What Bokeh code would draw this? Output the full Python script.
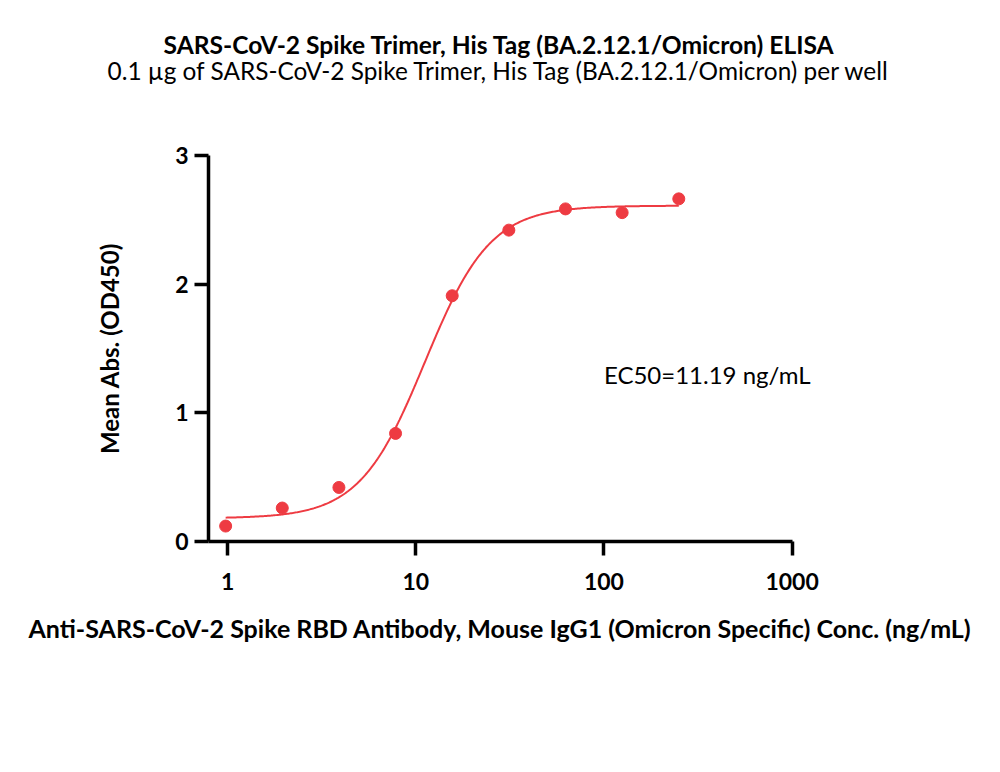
import numpy as np
from bokeh.plotting import figure
from bokeh.layouts import column
from bokeh.models import Label, Title, FixedTicker, BasicTickFormatter
from bokeh.embed import file_html
from bokeh.resources import INLINE

# ELISA dose-response data (antibody concentration in ng/mL vs OD450)
conc = [0.977, 1.953, 3.906, 7.8125, 15.625, 31.25, 62.5, 125, 250]
od450 = [0.12, 0.26, 0.42, 0.84, 1.91, 2.42, 2.585, 2.556, 2.663]

# Four-parameter logistic fit parameters
fit_bottom = 0.18
fit_top = 2.61
ec50 = 11.19
hill = 2.5

x_ticks = [1, 10, 100, 1000]
y_ticks = [0, 1, 2, 3]

title_text = "SARS-CoV-2 Spike Trimer, His Tag (BA.2.12.1/Omicron) ELISA"
subtitle_text = "0.1 \u00b5g of SARS-CoV-2 Spike Trimer, His Tag (BA.2.12.1/Omicron) per well"
x_label = "Anti-SARS-CoV-2 Spike RBD Antibody, Mouse IgG1 (Omicron Specific) Conc. (ng/mL)"
y_label = "Mean Abs. (OD450)"
ec50_text = f"EC50={ec50} ng/mL"

FONT = "Lato"
RED = "#EE3B42"
HEAD_H = 120
X_RANGE = (0.792, 1600)

# heading strip: title and subtitle sit in its top panel
head = figure(width=1000, height=HEAD_H, x_axis_type="log", x_range=X_RANGE,
              y_range=(0, 1), output_backend="svg", toolbar_location=None,
              min_border_left=208, min_border_right=170,
              min_border_top=80, min_border_bottom=0)
head.outline_line_color = None
head.xaxis.visible = False
head.yaxis.visible = False
head.grid.visible = False
head.add_layout(Title(text=subtitle_text, text_font=FONT, text_font_size="24.4px",
                      text_font_style="normal", text_color="black",
                      align="left", offset=-101, vertical_align="middle",
                      standoff=-10), "above")
head.add_layout(Title(text=title_text, text_font=FONT, text_font_style="bold",
                      text_font_size="24.6px", text_color="black",
                      align="left", offset=-45, vertical_align="middle",
                      standoff=0), "above")

p = figure(width=1000, height=772 - HEAD_H, x_axis_type="log",
           x_range=X_RANGE, y_range=(0, 3),
           output_backend="svg", toolbar_location=None,
           min_border_left=208, min_border_right=170,
           min_border_top=155 - HEAD_H, min_border_bottom=231)
p.outline_line_color = None
p.xgrid.visible = False
p.ygrid.visible = False

# fitted 4PL curve
xs = np.logspace(np.log10(conc[0]), np.log10(conc[-1]), 400)
ys = fit_bottom + (fit_top - fit_bottom) / (1 + (ec50 / xs) ** hill)
p.line(xs, ys, line_color=RED, line_width=2)

# measured points
p.scatter(conc, od450, size=12, fill_color=RED, line_color=RED)

for ax in (p.xaxis[0], p.yaxis[0]):
    ax.axis_line_width = 3.5
    ax.axis_line_color = "black"
    ax.major_tick_line_width = 3.5
    ax.major_tick_line_color = "black"
    ax.major_tick_in = 0
    ax.major_tick_out = 14
    ax.minor_tick_line_color = None
    ax.major_label_text_font = FONT
    ax.major_label_text_font_style = "bold"
    ax.major_label_text_font_size = "23px"
    ax.major_label_text_color = "black"
    ax.axis_label_text_font = FONT
    ax.axis_label_text_font_style = "bold"
    ax.axis_label_text_color = "black"

p.xaxis.ticker = FixedTicker(ticks=x_ticks)
p.xaxis.formatter = BasicTickFormatter()
p.xaxis.major_label_standoff = 17
p.xaxis.bounds = (X_RANGE[0], x_ticks[-1])

p.yaxis.ticker = FixedTicker(ticks=y_ticks)
p.yaxis.major_label_standoff = 6
p.yaxis.axis_label = y_label
p.yaxis.axis_label_text_font_size = "24px"
p.yaxis.axis_label_standoff = 48

# x-axis title, positioned from the frame's left edge
p.add_layout(Title(text=x_label, text_font=FONT, text_font_style="bold",
                   text_font_size="25px", text_color="black",
                   align="left", offset=-180, vertical_align="middle",
                   standoff=38), "below")

p.add_layout(Label(x=100, y=1.3, text=ec50_text, text_font=FONT,
                   text_font_size="24px", text_baseline="middle",
                   text_align="left", text_color="black"))

layout = column(head, p, spacing=0)
open("out.html", "w").write(file_html(layout, INLINE))
